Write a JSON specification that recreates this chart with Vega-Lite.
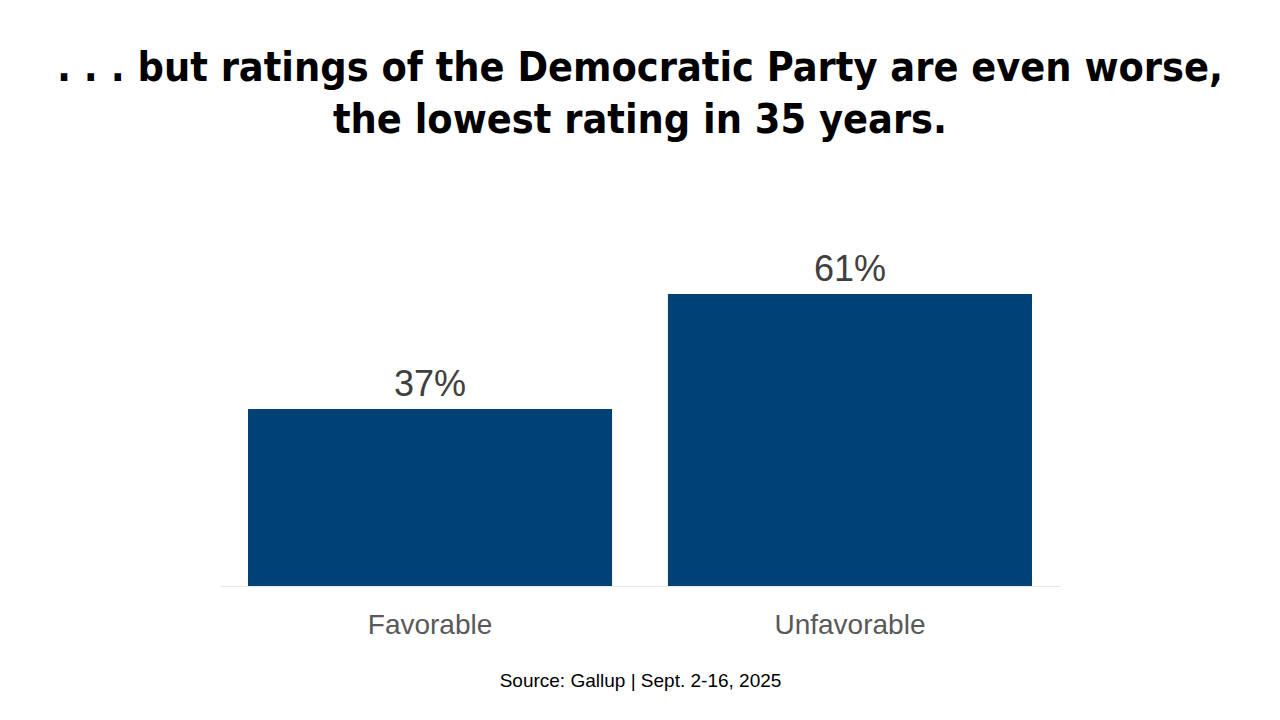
{
  "$schema": "https://vega.github.io/schema/vega-lite/v6.json",
  "width": 840,
  "height": 335,
  "autosize": {"type": "none"},
  "padding": {"left": 220, "top": 251, "right": 220, "bottom": 134},
  "background": "white",
  "title": {
    "text": [". . . but ratings of the Democratic Party are even worse,", "the lowest rating in 35 years."],
    "font": "DejaVu Sans Condensed",
    "fontWeight": "bold",
    "fontSize": 41,
    "lineHeight": 52,
    "color": "#000000",
    "anchor": "middle",
    "frame": "group",
    "baseline": "bottom",
    "offset": 68
  },
  "data": {
    "values": [
      {"rating": "Favorable", "pct": 37, "label": "37%"},
      {"rating": "Unfavorable", "pct": 61, "label": "61%"}
    ]
  },
  "config": {
    "view": {"stroke": null},
    "font": "Liberation Sans"
  },
  "encoding": {
    "x": {
      "field": "rating",
      "type": "nominal",
      "sort": null,
      "scale": {"paddingInner": 0.133, "paddingOuter": 0.0667},
      "axis": {
        "title": "Source: Gallup | Sept. 2-16, 2025",
        "titleFont": "Liberation Sans",
        "titleFontSize": 19,
        "titleFontWeight": "normal",
        "titleColor": "#000000",
        "titlePadding": 32,
        "labelAngle": 0,
        "labelFont": "Liberation Sans",
        "labelFontSize": 28,
        "labelColor": "#595959",
        "labelPadding": 25,
        "ticks": false,
        "tickSize": 0,
        "domainColor": "#e6e6e6",
        "domainWidth": 1,
        "grid": false
      }
    },
    "y": {
      "field": "pct",
      "type": "quantitative",
      "scale": {"domain": [0, 70]},
      "axis": null
    }
  },
  "layer": [
    {
      "mark": {"type": "bar", "color": "#004276"}
    },
    {
      "mark": {
        "type": "text",
        "baseline": "alphabetic",
        "dy": -13,
        "fontSize": 36,
        "font": "Liberation Sans",
        "color": "#404040"
      },
      "encoding": {
        "text": {"field": "label", "type": "nominal"}
      }
    }
  ]
}
